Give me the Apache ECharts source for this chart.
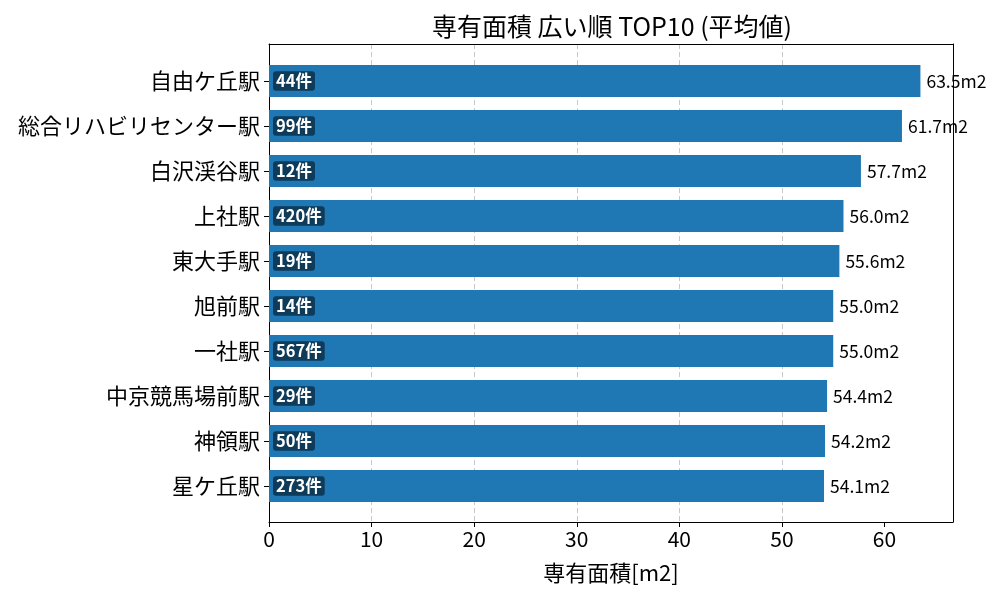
<!DOCTYPE html>
<html><head><meta charset="utf-8">
<script src="https://cdn.jsdelivr.net/npm/echarts@6/dist/echarts.min.js"></script>
<style>html,body{margin:0;padding:0;background:#fff}#c{width:1000px;height:600px}</style>
</head><body><div id="c"></div>
<script>
const stations = ['自由ケ丘駅','総合リハビリセンター駅','白沢渓谷駅','上社駅','東大手駅','旭前駅','一社駅','中京競馬場前駅','神領駅','星ケ丘駅'];
const avgArea = [63.5, 61.7, 57.7, 56.0, 55.6, 55.0, 55.0, 54.4, 54.2, 54.1];
const counts = [44, 99, 12, 420, 19, 14, 567, 29, 50, 273];
const xTicks = [0, 10, 20, 30, 40, 50, 60];

const FONT = '"Noto Sans CJK JP", "Noto Sans", sans-serif';
const XMAX = 66.675;
const chart = echarts.init(document.getElementById('c'));
chart.setOption({
  animation: false,
  backgroundColor: '#fff',
  textStyle: {fontFamily: FONT},
  title: {text: '専有面積 広い順 TOP10 (平均値)', left: 607, top: 9, textAlign: 'center',
    textStyle: {fontFamily: FONT, fontSize: 25, fontWeight: 'normal', color: '#000'}},
  grid: [
    {left: 269, right: 47, top: 44, bottom: 78},
    {left: 269, right: 47, top: 58.5, height: 450}
  ],
  xAxis: [
    {gridIndex: 0, type: 'value', min: 0, max: XMAX, interval: 10, position: 'bottom',
      name: '専有面積[m2]', nameLocation: 'middle', nameGap: 40,
      nameTextStyle: {fontFamily: FONT, fontSize: 22, color: '#000'},
      axisLine: {show: true, onZero: false, lineStyle: {color: '#000'}},
      axisTick: {show: true, length: 5, customValues: xTicks, lineStyle: {color: '#000'}},
      axisLabel: {fontFamily: FONT, fontSize: 21, color: '#000', margin: 7, customValues: xTicks,
        formatter: v => String(v)},
      splitLine: {show: true, showMinLine: false, showMaxLine: false, lineStyle: {color: '#c8c8c8', type: [5, 3], width: 1}}},
    {gridIndex: 0, type: 'value', min: 0, max: XMAX, position: 'top',
      axisLine: {show: true, onZero: false, lineStyle: {color: '#000'}},
      axisTick: {show: false}, axisLabel: {show: false}, splitLine: {show: false}},
    {gridIndex: 1, type: 'value', min: 0, max: XMAX, show: false, splitLine: {show: false}}
  ],
  yAxis: [
    {gridIndex: 0, type: 'value', min: 0, max: 1, position: 'left',
      axisLine: {show: true, onZero: false, lineStyle: {color: '#000'}},
      axisTick: {show: false}, axisLabel: {show: false}, splitLine: {show: false}},
    {gridIndex: 0, type: 'value', min: 0, max: 1, position: 'right',
      axisLine: {show: true, onZero: false, lineStyle: {color: '#000'}},
      axisTick: {show: false}, axisLabel: {show: false}, splitLine: {show: false}},
    {gridIndex: 1, type: 'category', data: stations, inverse: true,
      axisLine: {show: false},
      axisTick: {show: true, alignWithLabel: true, length: 5, lineStyle: {color: '#000'}},
      axisLabel: {fontFamily: FONT, fontSize: 22, color: '#000', margin: 9},
      splitLine: {show: false}}
  ],
  series: [{
    type: 'bar', xAxisIndex: 2, yAxisIndex: 2, data: avgArea, barWidth: 32, z: 5,
    itemStyle: {color: '#1f77b4'},
    label: {show: true, position: 'right', distance: 6, fontFamily: FONT, fontSize: 17.5, color: '#000',
      formatter: p => p.value.toFixed(1) + 'm2'}
  }, {
    type: 'bar', xAxisIndex: 2, yAxisIndex: 2, data: avgArea, barWidth: 32, barGap: '-100%', z: 6,
    itemStyle: {color: 'transparent'},
    label: {show: true, position: 'insideLeft', distance: 4, fontFamily: FONT, fontSize: 16.5, fontWeight: 'bold',
      color: '#fff', backgroundColor: '#0f3b5a', borderRadius: 3, padding: [2, 3, 1, 3],
      formatter: p => counts[p.dataIndex] + '件'}
  }]
});
</script></body></html>
